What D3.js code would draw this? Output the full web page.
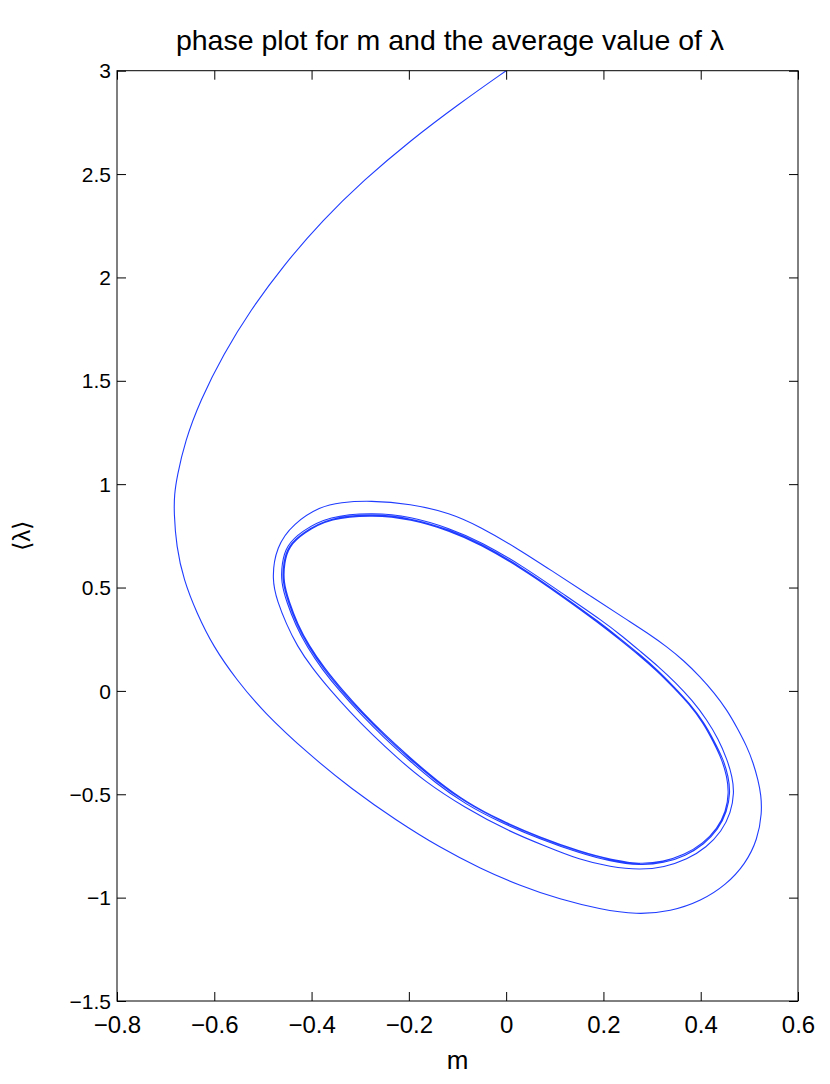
<!DOCTYPE html>
<html>
<head>
<meta charset="utf-8">
<script src="https://cdn.jsdelivr.net/npm/d3@7"></script>
<style>
  html, body { margin: 0; padding: 0; background: #fff; }
  svg { display: block; }
  text { font-family: "Liberation Sans", Arial, Helvetica, sans-serif; fill: #000; }
</style>
</head>
<body>
<svg id="chart" width="830" height="1084"></svg>
<script>
// ---------------- data ----------------
const titleText = "phase plot for m and the average value of \u03bb";
const xLabelText = "m";
const yLabelText = "\u27e8\u03bb\u27e9";
const xTicks = [-0.8, -0.6, -0.4, -0.2, 0, 0.2, 0.4, 0.6];
const yTicks = [-1.5, -1, -0.5, 0, 0.5, 1, 1.5, 2, 2.5, 3];
const xDomain = [-0.8, 0.6];
const yDomain = [-1.5, 3];

// trajectory pieces, each point is [m, <lambda>]
const entryPath = [
  [0.000, 3.000], [-0.095, 2.843], [-0.197, 2.662], [-0.293, 2.470], [-0.376, 2.280],
  [-0.458, 2.058], [-0.526, 1.840], [-0.581, 1.630], [-0.629, 1.405], [-0.660, 1.210],
  [-0.677, 1.033], [-0.682, 0.950], [-0.683, 0.866], [-0.678, 0.698], [-0.663, 0.537],
  [-0.636, 0.376], [-0.602, 0.214], [-0.554, 0.053], [-0.499, -0.102], [-0.408, -0.302],
  [-0.317, -0.476], [-0.226, -0.626], [-0.136, -0.758], [-0.053, -0.859], [0.029, -0.943],
  [0.111, -1.009], [0.193, -1.056], [0.268, -1.083], [0.339, -1.067], [0.401, -1.016],
  [0.452, -0.939], [0.492, -0.837], [0.517, -0.718], [0.526, -0.590], [0.524, -0.503],
  [0.518, -0.431], [0.508, -0.348], [0.495, -0.269], [0.475, -0.179], [0.454, -0.092],
  [0.428, -0.010], [0.399, 0.068], [0.366, 0.145], [0.331, 0.213], [0.290, 0.281],
  [0.249, 0.343]
];
const loop1Upper = [
  [0.173, 0.460], [0.097, 0.576], [0.018, 0.697], [-0.053, 0.793], [-0.115, 0.861],
  [-0.197, 0.905], [-0.280, 0.921], [-0.341, 0.912], [-0.382, 0.892], [-0.437, 0.811],
  [-0.473, 0.698], [-0.482, 0.537], [-0.470, 0.431], [-0.452, 0.324], [-0.430, 0.218],
  [-0.399, 0.111], [-0.362, 0.005], [-0.321, -0.102], [-0.275, -0.213], [-0.224, -0.324],
  [-0.169, -0.435]
];
const loop1Lower = [
  [-0.088, -0.561], [0.008, -0.682], [0.080, -0.750], [0.152, -0.818], [0.214, -0.851],
  [0.275, -0.866], [0.325, -0.853], [0.372, -0.816], [0.412, -0.757], [0.443, -0.680],
  [0.462, -0.590], [0.469, -0.493], [0.465, -0.416], [0.454, -0.329], [0.436, -0.232],
  [0.413, -0.140], [0.382, -0.044], [0.349, 0.039], [0.314, 0.116], [0.277, 0.189],
  [0.238, 0.266], [0.201, 0.334]
];
const loop2Upper = [
  [0.114, 0.474], [0.032, 0.607], [-0.051, 0.720], [-0.115, 0.786], [-0.197, 0.844],
  [-0.273, 0.863], [-0.365, 0.846], [-0.421, 0.772], [-0.452, 0.702], [-0.461, 0.619],
  [-0.463, 0.527], [-0.451, 0.428], [-0.433, 0.318], [-0.409, 0.211], [-0.378, 0.103],
  [-0.341, -0.004], [-0.300, -0.111], [-0.253, -0.222], [-0.201, -0.333], [-0.146, -0.444]
];
const loop2Lower = [
  [-0.084, -0.548], [-0.013, -0.635], [0.070, -0.717], [0.152, -0.785], [0.214, -0.824],
  [0.275, -0.845], [0.324, -0.833], [0.369, -0.798], [0.407, -0.742], [0.436, -0.670],
  [0.454, -0.585], [0.461, -0.493], [0.457, -0.416], [0.447, -0.333], [0.427, -0.240],
  [0.407, -0.153], [0.377, -0.060], [0.344, 0.023], [0.311, 0.102], [0.276, 0.174],
  [0.235, 0.252], [0.194, 0.329]
];
const loop3Upper = [
  [0.112, 0.468], [0.030, 0.601], [-0.052, 0.713], [-0.115, 0.779], [-0.197, 0.837],
  [-0.273, 0.856], [-0.363, 0.840], [-0.418, 0.766], [-0.449, 0.700], [-0.458, 0.619],
  [-0.460, 0.527], [-0.448, 0.430], [-0.431, 0.323], [-0.407, 0.216], [-0.376, 0.108],
  [-0.339, 0.002], [-0.298, -0.105], [-0.251, -0.216], [-0.199, -0.327], [-0.144, -0.438]
];
const loop3Lower = [
  [-0.082, -0.542], [-0.012, -0.629], [0.070, -0.711], [0.152, -0.779], [0.214, -0.818],
  [0.275, -0.839], [0.323, -0.827], [0.367, -0.793], [0.405, -0.738], [0.434, -0.667],
  [0.452, -0.583], [0.458, -0.493], [0.454, -0.416], [0.444, -0.334], [0.425, -0.242],
  [0.405, -0.155], [0.376, -0.063], [0.343, 0.019], [0.310, 0.097], [0.275, 0.169],
  [0.234, 0.247], [0.193, 0.324]
];
const loop4Upper = [
  [0.111, 0.464], [0.029, 0.597], [-0.053, 0.709], [-0.115, 0.774], [-0.197, 0.832],
  [-0.273, 0.851], [-0.362, 0.836], [-0.417, 0.763], [-0.447, 0.698], [-0.456, 0.619],
  [-0.458, 0.527], [-0.446, 0.431], [-0.429, 0.324], [-0.405, 0.218], [-0.374, 0.111],
  [-0.337, 0.005], [-0.296, -0.102], [-0.249, -0.213], [-0.197, -0.324], [-0.142, -0.435]
];
const loop4Lower = [
  [-0.081, -0.540], [-0.011, -0.627], [0.070, -0.709], [0.152, -0.777], [0.214, -0.816],
  [0.275, -0.837]
];

// ---------------- layout ----------------
const svg = d3.select("#chart");
const W = 830, H = 1084;
const margin = { left: 117, right: 32, top: 70.7, bottom: 83 };
const x = d3.scaleLinear().domain(xDomain).range([margin.left, W - margin.right]);
const y = d3.scaleLinear().domain(yDomain).range([H - margin.bottom, margin.top]);
const fmt = v => (v < 0 ? "\u2212" : "") + String(Math.abs(+v.toFixed(2)));
const tickLen = 9;
const lineColor = "#000";
const fontFam = "\"Liberation Sans\", Arial, Helvetica, sans-serif";

svg.append("clipPath").attr("id", "plotclip")
  .append("rect")
  .attr("x", x(xDomain[0])).attr("y", y(yDomain[1]))
  .attr("width", x(xDomain[1]) - x(xDomain[0]))
  .attr("height", y(yDomain[0]) - y(yDomain[1]));

// trajectory
const traj = [].concat(entryPath, loop1Upper, loop1Lower, loop2Upper, loop2Lower,
                       loop3Upper, loop3Lower, loop4Upper, loop4Lower);
const line = d3.line().x(d => x(d[0])).y(d => y(d[1])).curve(d3.curveBasis);
svg.append("path")
  .datum(traj)
  .attr("clip-path", "url(#plotclip)")
  .attr("d", line)
  .attr("fill", "none")
  .attr("stroke", "#1f3cff")
  .attr("stroke-width", 1.1)
  .attr("stroke-linejoin", "round");

// axes
const gB = svg.append("g").attr("transform", `translate(0,${y(yDomain[0])})`)
  .call(d3.axisBottom(x).tickValues(xTicks).tickSizeInner(-tickLen).tickSizeOuter(0)
        .tickPadding(15).tickFormat(fmt));
const gT = svg.append("g").attr("transform", `translate(0,${y(yDomain[1])})`)
  .call(d3.axisTop(x).tickValues(xTicks).tickSizeInner(-tickLen).tickSizeOuter(0).tickFormat(""));
const gL = svg.append("g").attr("transform", `translate(${x(xDomain[0])},0)`)
  .call(d3.axisLeft(y).tickValues(yTicks).tickSizeInner(-tickLen).tickSizeOuter(0)
        .tickPadding(6).tickFormat(fmt));
const gR = svg.append("g").attr("transform", `translate(${x(xDomain[1])},0)`)
  .call(d3.axisRight(y).tickValues(yTicks).tickSizeInner(-tickLen).tickSizeOuter(0).tickFormat(""));

[gB, gT, gL, gR].forEach(g => {
  g.select(".domain").remove();
  g.selectAll(".tick line").attr("stroke", lineColor).attr("stroke-width", 1);
  g.selectAll(".tick text").attr("font-family", fontFam).attr("fill", "#000");
});
gB.selectAll(".tick text").attr("font-size", 24);
gL.selectAll(".tick text").attr("font-size", 21).attr("dy", "0.34em");

// box
svg.append("rect")
  .attr("x", x(xDomain[0])).attr("y", y(yDomain[1]))
  .attr("width", x(xDomain[1]) - x(xDomain[0]))
  .attr("height", y(yDomain[0]) - y(yDomain[1]))
  .attr("fill", "none").attr("stroke", lineColor).attr("stroke-width", 1);

// title & labels
svg.append("text")
  .attr("x", 450).attr("y", 50)
  .attr("text-anchor", "middle").attr("font-size", 28.5)
  .text(titleText);
svg.append("text")
  .attr("x", (x(xDomain[0]) + x(xDomain[1])) / 2).attr("y", 1069)
  .attr("text-anchor", "middle").attr("font-size", 26)
  .text(xLabelText);
svg.append("text")
  .attr("transform", `translate(30, ${(y(yDomain[0]) + y(yDomain[1])) / 2}) rotate(-90)`)
  .attr("text-anchor", "middle").attr("font-size", 24)
  .attr("font-family", "\"DejaVu Sans\", sans-serif")
  .text(yLabelText);
</script>
</body>
</html>
